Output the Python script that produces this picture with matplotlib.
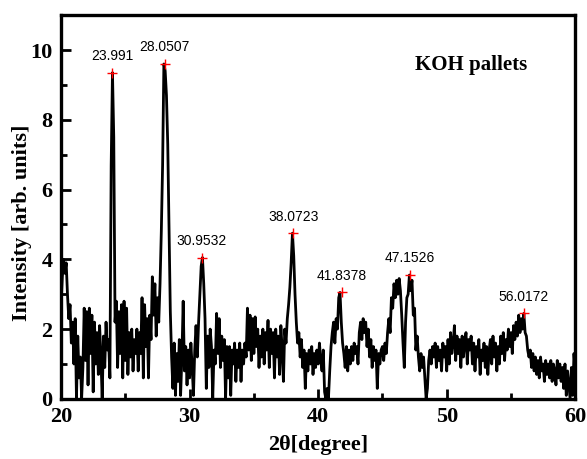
"""
plot.py - XRD pattern of KOH pallets with labelled peaks
"""
import numpy as np
import matplotlib
matplotlib.use("Agg")
import matplotlib.pyplot as plt
from matplotlib.ticker import MultipleLocator

# intensity, one row per degree (20.0 ... 59.9), step 0.1
intensity = [
    2.7, 3.5, 4.0, 3.6, 3.9, 3.0, 2.3, 2.7, 1.6, 2.2,   # 20
    1.0, 2.3, 0.0, 1.8, 0.6, 1.2, 0.0, 0.9, 2.6, 1.1,   # 21
    2.5, 0.4, 2.6, 1.3, 2.4, 0.2, 2.2, 1.0, 1.9, 0.7,   # 22
    2.1, 1.2, 0.0, 1.8, 0.9, 2.2, 1.4, 1.7, 0.6, 6.7,   # 23
    9.35, 7.5, 2.2, 2.8, 0.9, 2.5, 1.3, 2.7, 0.6, 2.8,  # 24
    1.1, 2.6, 0.7, 1.9, 1.2, 2.0, 0.8, 1.7, 1.3, 2.0,   # 25
    0.8, 1.9, 1.3, 2.9, 0.6, 2.7, 1.5, 2.3, 0.6, 2.4,   # 26
    1.7, 3.5, 2.4, 3.3, 1.8, 2.9, 2.2, 3.3, 4.8, 6.7,   # 27
    9.6, 9.4, 8.7, 7.3, 4.8, 2.5, 1.2, 0.3, 1.6, 0.1,   # 28
    1.3, 0.5, 1.7, 0.1, 1.2, 2.8, 0.8, 1.5, 0.4, 1.4,   # 29
    0.6, 1.6, 0.9, 0.1, 1.4, 2.1, 1.2, 2.2, 3.0, 3.8,   # 30
    4.05, 3.3, 2.3, 0.3, 1.8, 0.9, 2.0, 1.5, 0.0, 1.4,  # 31
    1.0, 2.45, 1.3, 2.3, 0.9, 1.8, 1.1, 1.7, 0.0, 1.5,  # 32
    0.6, 1.5, 0.1, 1.4, 1.0, 1.6, 0.5, 1.4, 0.9, 1.6,   # 33
    0.5, 1.4, 1.0, 1.6, 1.2, 2.6, 1.4, 2.4, 1.1, 2.3,   # 34
    1.3, 2.35, 1.5, 2.0, 0.9, 1.8, 1.2, 2.0, 1.0, 1.9,  # 35
    1.4, 2.25, 0.9, 2.0, 1.3, 1.9, 0.6, 2.0, 1.2, 1.8,  # 36
    0.7, 2.1, 1.4, 0.5, 2.0, 1.6, 2.3, 2.7, 3.2, 3.9,   # 37
    4.75, 4.1, 3.0, 2.2, 1.6, 1.9, 1.2, 1.7, 0.9, 1.4,  # 38
    0.3, 1.3, 0.8, 1.4, 1.0, 1.5, 0.7, 1.3, 0.9, 1.4,   # 39
    1.0, 1.6, 1.1, 0.8, 1.4, 0.2, 0.0, 0.3, 0.0, 0.8,   # 40
    1.5, 1.9, 2.2, 1.6, 2.3, 2.0, 2.9, 3.05, 2.2, 1.6,  # 41
    1.3, 0.9, 1.5, 0.8, 1.4, 1.0, 1.5, 1.1, 1.6, 1.3,   # 42
    1.5, 1.0, 1.9, 2.2, 1.7, 2.3, 1.9, 2.2, 1.5, 2.0,   # 43
    1.2, 1.7, 0.9, 1.5, 1.1, 1.4, 0.3, 1.3, 1.0, 1.4,   # 44
    1.5, 1.1, 1.6, 1.3, 1.9, 2.3, 1.9, 2.9, 2.6, 3.3,   # 45
    2.9, 3.4, 3.0, 3.45, 3.1, 2.4, 1.6, 0.9, 2.2, 2.9,  # 46
    3.0, 3.55, 3.1, 3.4, 2.4, 2.6, 1.4, 1.8, 1.2, 0.8,  # 47
    1.3, 0.9, 1.2, 0.6, 0.0, 0.3, 1.1, 1.4, 1.0, 1.5,   # 48
    1.2, 1.6, 0.9, 1.5, 1.1, 1.4, 0.8, 1.6, 1.2, 1.5,   # 49
    0.8, 1.7, 1.0, 1.9, 1.3, 1.6, 2.1, 1.1, 1.8, 1.3,   # 50
    1.7, 0.9, 1.8, 1.2, 1.6, 1.9, 1.0, 1.7, 1.4, 1.8,   # 51
    1.0, 1.6, 0.8, 1.5, 1.2, 1.7, 0.7, 1.4, 1.1, 1.6,   # 52
    0.9, 1.5, 0.7, 1.4, 1.7, 1.0, 1.8, 1.2, 1.6, 0.8,   # 53
    1.5, 1.0, 1.8, 1.3, 1.9, 1.1, 1.7, 1.4, 2.0, 1.5,   # 54
    1.9, 1.3, 2.1, 1.7, 2.2, 1.8, 2.4, 1.9, 2.3, 2.0,   # 55
    2.45, 1.9, 1.8, 1.4, 1.2, 1.4, 0.9, 1.3, 0.8, 1.2,  # 56
    0.7, 1.1, 0.6, 1.2, 0.8, 1.0, 0.5, 1.1, 0.7, 1.0,   # 57
    0.6, 1.1, 0.5, 1.0, 0.8, 0.4, 1.1, 0.6, 1.0, 0.5,   # 58
    0.9, 0.3, 1.0, 0.1, 0.8, 0.4, 0.0, 0.9, 0.1, 1.3,   # 59
    0.8,                                                # 60
]
two_theta = np.linspace(20, 60, len(intensity))

# labelled peaks
peak_pos = [23.991, 28.0507, 30.9532, 38.0723, 41.8378, 47.1526, 56.0172]
peak_int = [9.35, 9.6, 4.05, 4.75, 3.05, 3.55, 2.45]

fig = plt.figure(figsize=(5.87, 4.59), dpi=100)
ax = fig.add_axes([0.104, 0.131, 0.876, 0.836])

ax.plot(two_theta, intensity, color="black", lw=2.0)

# red crosses on the peak tops plus their positions
ax.plot(peak_pos, peak_int, "+", color="red", ms=7, mew=1.0)
for p, h in zip(peak_pos, peak_int):
    ax.annotate(f"{p:g}", (p, h), xytext=(0, 12), textcoords="offset points",
                ha="center", va="center", fontsize=10, family="Liberation Sans")

ax.text(0.798, 0.87, "KOH pallets", transform=ax.transAxes, ha="center",
        va="center", fontsize=15, fontweight="bold", family="Liberation Serif")

ax.set_xlim(20, 60)
ax.set_ylim(0, 11)
ax.xaxis.set_major_locator(MultipleLocator(10))
ax.xaxis.set_minor_locator(MultipleLocator(5))
ax.yaxis.set_major_locator(MultipleLocator(2))
ax.yaxis.set_minor_locator(MultipleLocator(1))

# inward ticks on bottom/left only
ax.tick_params(which="both", direction="in", top=False, right=False, width=2)
ax.tick_params(which="major", length=7, pad=6, labelsize=16)
ax.tick_params(which="minor", length=4)
for lbl in ax.get_xticklabels() + ax.get_yticklabels():
    lbl.set_family("Liberation Serif")
    lbl.set_fontweight("bold")

for sp in ax.spines.values():
    sp.set_linewidth(2.4)

ax.set_xlabel("2θ[degree]", fontsize=16, fontweight="bold", family="Liberation Serif")
ax.set_ylabel("Intensity [arb. units]", fontsize=16, fontweight="bold",
              family="Liberation Serif")
ax.xaxis.set_label_coords(0.5, -0.095)
ax.yaxis.set_label_coords(-0.056, 0.46)

fig.savefig("out.png", dpi=100)
